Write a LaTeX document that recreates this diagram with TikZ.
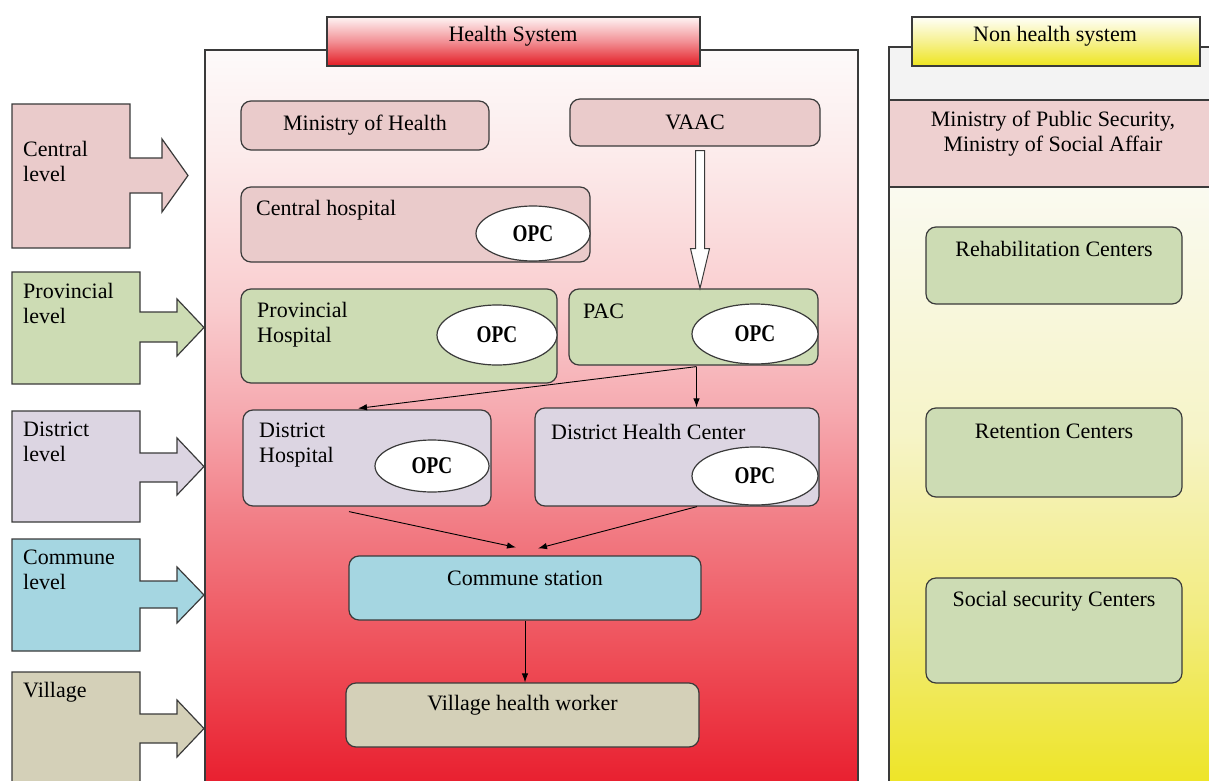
\documentclass[tikz,border=0pt]{standalone}
\usepackage{fontspec}
\setmainfont{Liberation Serif}
\newfontfamily\opcfont[FakeStretch=0.8]{Liberation Serif}
\usetikzlibrary{arrows.meta,calc,shapes.geometric}

\definecolor{linec}{HTML}{3A3A3A}
\definecolor{pinkfill}{HTML}{EACBCB}
\definecolor{greenfill}{HTML}{CDDCB4}
\definecolor{lavfill}{HTML}{DCD5E2}
\definecolor{bluefill}{HTML}{A5D6E1}
\definecolor{khakifill}{HTML}{D4D0B8}
\definecolor{grayband}{HTML}{F3F3F3}
\definecolor{pinkband}{HTML}{EED0D0}
% health background
\definecolor{hA}{HTML}{E8192A}
\definecolor{hB}{HTML}{EE4B55}
\definecolor{hC}{HTML}{F28088}
\definecolor{hD}{HTML}{F6AAB0}
\definecolor{hE}{HTML}{F9CDCF}
\definecolor{hF}{HTML}{FCEBEB}
\definecolor{hG}{HTML}{FDFAFA}
% headers
\definecolor{rA}{HTML}{E31B23}
\definecolor{rB}{HTML}{F29095}
\definecolor{rC}{HTML}{FEF4F4}
\definecolor{yA}{HTML}{EEE51E}
\definecolor{yB}{HTML}{F6F190}
\definecolor{yC}{HTML}{FFFFF8}
% non-health lower
\definecolor{nA}{HTML}{EDE41E}
\definecolor{nB}{HTML}{F2EC80}
\definecolor{nC}{HTML}{F6F4C8}
\definecolor{nD}{HTML}{FAFAF0}

\pgfdeclareverticalshading{healthbg}{100bp}{color(0bp)=(hA); color(25bp)=(hA); color(34bp)=(hB); color(44bp)=(hC); color(51bp)=(hD); color(58bp)=(hE); color(68bp)=(hF); color(75bp)=(hG); color(100bp)=(hG)}
\pgfdeclareverticalshading{hhead}{100bp}{color(0bp)=(rA); color(25bp)=(rA); color(50bp)=(rB); color(75bp)=(rC); color(100bp)=(rC)}
\pgfdeclareverticalshading{yhead}{100bp}{color(0bp)=(yA); color(25bp)=(yA); color(50bp)=(yB); color(75bp)=(yC); color(100bp)=(yC)}
\pgfdeclareverticalshading{nonbg}{100bp}{color(0bp)=(nA); color(25bp)=(nA); color(40bp)=(nB); color(55bp)=(nC); color(75bp)=(nD); color(100bp)=(nD)}

\begin{document}
\begin{tikzpicture}[x=1pt,y=-1pt,
  lvl/.style={draw=linec, line width=1.2pt},
  box/.style={draw=linec, line width=1.2pt, rounded corners=10pt, inner sep=0pt},
  opc/.style={ellipse, draw=linec, line width=1.2pt, fill=white, inner sep=0pt,
              font=\opcfont\bfseries\fontsize{24}{26}\selectfont},
  txt/.style={inner sep=0pt, font=\fontsize{22}{25}\selectfont, align=left},
  con/.style={-{Latex[length=9pt,width=6.5pt]}, line width=0.9pt, black},
  hdr/.style={draw=linec, line width=1.2pt, inner sep=0pt, minimum height=49pt}
]
\useasboundingbox (0,0) rectangle (1209,781);

% ---------- left level arrows ----------
\draw[lvl, fill=pinkfill] (12,104) -- (130,104) -- (130,158) -- (162,158) -- (162,139) -- (188,175.5)
  -- (162,212) -- (162,193) -- (130,193) -- (130,248) -- (12,248) -- cycle;
\node[txt, anchor=west] (lc) at (23,161) {Central\\level};

\draw[lvl, fill=greenfill] (12,272) -- (140,272) -- (140,312) -- (177,312) -- (177,299) -- (204,327.5)
  -- (177,356) -- (177,342) -- (140,342) -- (140,384) -- (12,384) -- cycle;
\node[txt, anchor=west] (lp) at (23,303) {Provincial\\level};

\draw[lvl, fill=lavfill] (12,411) -- (140,411) -- (140,453) -- (177,453) -- (177,438) -- (204,466.5)
  -- (177,495) -- (177,482) -- (140,482) -- (140,522) -- (12,522) -- cycle;
\node[txt, anchor=west] (ld) at (23,442) {District\\level};

\draw[lvl, fill=bluefill] (12,539) -- (140,539) -- (140,581) -- (177,581) -- (177,567) -- (204,595)
  -- (177,623) -- (177,608) -- (140,608) -- (140,651) -- (12,651) -- cycle;
\node[txt, anchor=west] (lcm) at (23,570) {Commune\\level};

\draw[lvl, fill=khakifill] (12,800) -- (12,672) -- (140,672) -- (140,714) -- (177,714) -- (177,700) -- (204,728.5)
  -- (177,757) -- (177,743) -- (140,743) -- (140,800);
\node[txt, anchor=west] (lv) at (23,692) {Village};

% ---------- health system panel ----------
\shadedraw[shading=healthbg, draw=linec, line width=1.2pt] (205,50) rectangle (858,800);
\node[hdr, shading=hhead, minimum width=373pt] (hsh) at (513.5,41.5) {};
\node[txt] (hst) at (513,36) {Health System};

% ---------- non health panel ----------
\fill[grayband] (889,47) rectangle (1215,100);
\fill[pinkband] (889,100) rectangle (1215,187);
\shade[shading=nonbg] (889,187) rectangle (1215,800);
\draw[linec, line width=1.2pt] (889,800) -- (889,47) -- (1215,47);
\draw[linec, line width=1.2pt] (889,100) -- (1215,100);
\draw[linec, line width=1.2pt] (889,187) -- (1215,187);
\node[hdr, shading=yhead, minimum width=288pt] (nhh) at (1056,41.5) {};
\node[txt] (nht) at (1055,36) {Non health system};
\node[txt, align=center] (mps) at (1053,134) {Ministry of Public Security,\\Ministry of Social Affair};

\node[box, fill=greenfill, minimum width=256pt, minimum height=77pt] (rc) at (1054,265.5) {};
\node[txt] (rct) at ([yshift=-23pt]rc.north) {Rehabilitation Centers};
\node[box, fill=greenfill, minimum width=256pt, minimum height=89pt] (ret) at (1054,452.5) {};
\node[txt] (rett) at ([yshift=-24pt]ret.north) {Retention Centers};
\node[box, fill=greenfill, minimum width=256pt, minimum height=105pt] (ssc) at (1054,630.5) {};
\node[txt] (ssct) at ([yshift=-24pt]ssc.north) {Social security Centers};

% ---------- health system boxes ----------
\node[box, fill=pinkfill, minimum width=248pt, minimum height=49pt, font=\fontsize{22}{25}\selectfont] (mh) at (365,125.5) {Ministry of Health};
\node[box, fill=pinkfill, minimum width=250pt, minimum height=47pt, font=\fontsize{22}{25}\selectfont] (vaac) at (695,122.5) {VAAC};

\node[box, fill=pinkfill, minimum width=349pt, minimum height=75pt] (ch) at (415.5,224.5) {};
\node[txt, anchor=west] (cht) at (256,210) {Central hospital};
\node[opc, minimum width=114pt, minimum height=55pt] (cho) at (533,233.5) {OPC};

\node[box, fill=greenfill, minimum width=316pt, minimum height=94pt] (ph) at (399,336) {};
\node[txt, anchor=west] (pht) at (257,325) {Provincial\\Hospital};
\node[opc, minimum width=120pt, minimum height=60pt] (pho) at (497,335) {OPC};

\node[box, fill=greenfill, minimum width=249pt, minimum height=76pt] (pac) at (693.5,327) {};
\node[txt, anchor=west] (pact) at (583,311) {PAC};
\node[opc, minimum width=126pt, minimum height=60pt] (paco) at (755,334) {OPC};

\node[box, fill=lavfill, minimum width=248pt, minimum height=96pt] (dh) at (367,458) {};
\node[txt, anchor=west] (dht) at (259,445) {District\\Hospital};
\node[opc, minimum width=114pt, minimum height=52pt] (dho) at (432,466) {OPC};

\node[box, fill=lavfill, minimum width=284pt, minimum height=98pt] (dhc) at (677,457) {};
\node[txt, anchor=west] (dhct) at (551,432) {District Health Center};
\node[opc, minimum width=126pt, minimum height=58pt] (dhco) at (755,476) {OPC};

\node[box, fill=bluefill, minimum width=352pt, minimum height=64pt] (cs) at (525,588) {};
\node[txt] (cst) at ([yshift=-23pt]cs.north) {Commune station};

\node[box, fill=khakifill, minimum width=353pt, minimum height=64pt] (vhw) at (522.5,715) {};
\node[txt] (vhwt) at ([yshift=-23pt]vhw.north) {Village health worker};

% ---------- VAAC hollow arrow ----------
\coordinate (va) at ([xshift=5pt,yshift=-4pt]vaac.south);
\draw[linec, line width=1pt, fill=white] ($(va)+(-4.5,0)$) -- ($(va)+(4.5,0)$) -- ($(va)+(4.5,98)$)
  -- ($(va)+(9.5,98)$) -- (va |- pac.north) -- ($(va)+(-9.5,98)$) -- ($(va)+(-4.5,98)$) -- cycle;

% ---------- connectors ----------
\coordinate (ps) at ([xshift=3pt,yshift=-1pt]pac.south);
\draw[con] (ps) -- ([xshift=-9pt,yshift=1pt]dh.north);
\draw[con] (ps) -- (ps |- dhc.north);
\coordinate (dhs) at ([xshift=-18pt,yshift=-5pt]dh.south);
\draw[con] (dhs) -- ([xshift=-9pt,yshift=8pt]cs.north);
\draw[con] ([xshift=20pt]dhc.south) -- ([xshift=13pt,yshift=7pt]cs.north);
\draw[con] (cs.south) -- (cs.south |- vhw.north);
\end{tikzpicture}
\end{document}
